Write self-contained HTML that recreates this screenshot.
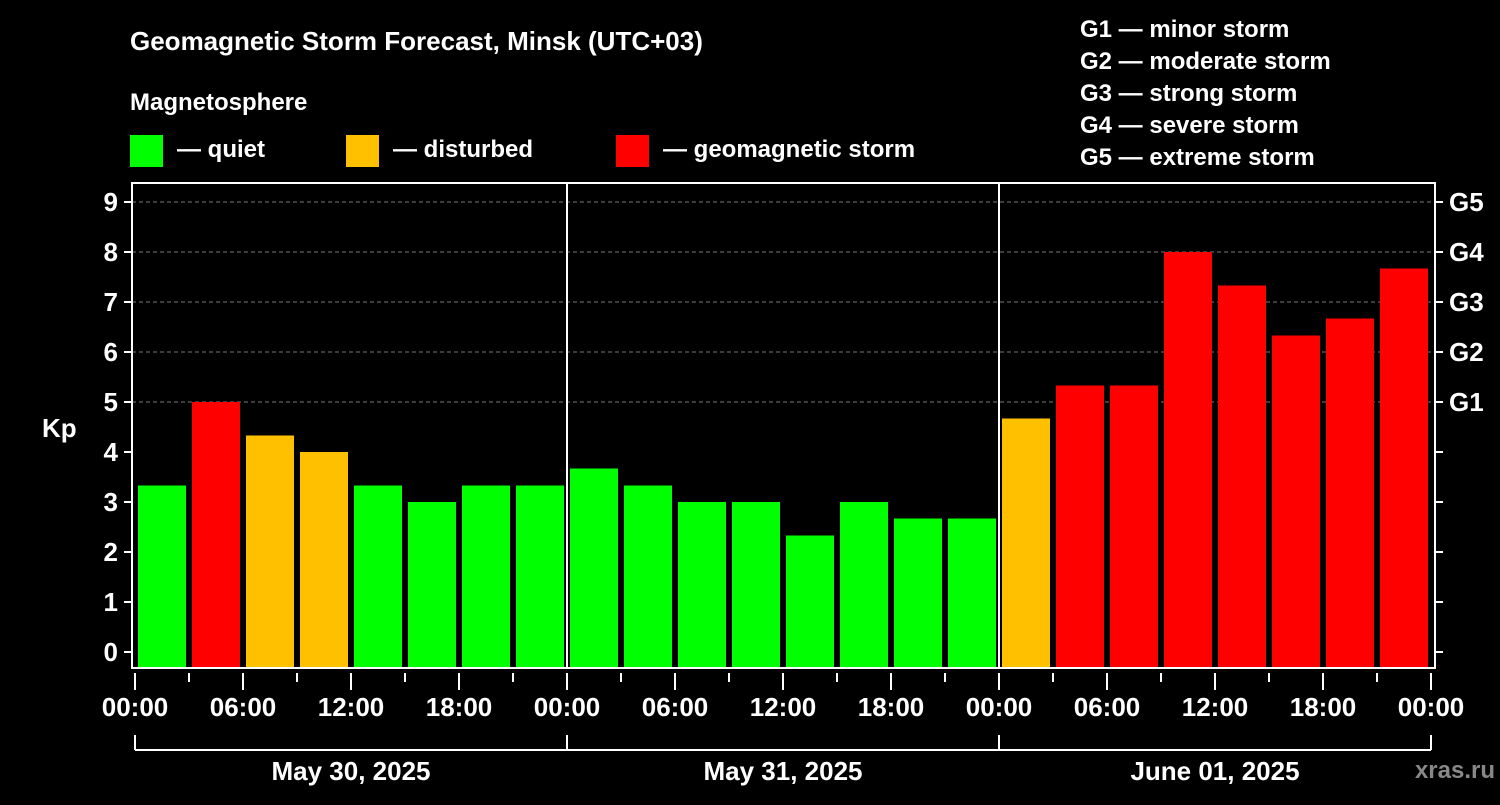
<!DOCTYPE html>
<html><head><meta charset="utf-8"><style>
body{margin:0;background:#000;width:1500px;height:800px;overflow:hidden}
svg text{font-family:"Liberation Sans",sans-serif;font-weight:bold;fill:#fff}
</style></head><body>
<svg id="c" width="1500" height="800">
<text x="130" y="50" font-size="26">Geomagnetic Storm Forecast, Minsk (UTC+03)</text>
<text x="130" y="110" font-size="24">Magnetosphere</text>
<rect x="130" y="135" width="33" height="32" fill="#00ff00"/>
<text x="177" y="157" font-size="24">— quiet</text>
<rect x="346" y="135" width="33" height="32" fill="#ffc000"/>
<text x="393" y="157" font-size="24">— disturbed</text>
<rect x="616" y="135" width="33" height="32" fill="#ff0000"/>
<text x="663" y="157" font-size="24">— geomagnetic storm</text>
<g font-size="24">
<text x="1080" y="37">G1 — minor storm</text>
<text x="1080" y="69">G2 — moderate storm</text>
<text x="1080" y="101">G3 — strong storm</text>
<text x="1080" y="133">G4 — severe storm</text>
<text x="1080" y="165">G5 — extreme storm</text>
</g>
<text x="42" y="437" font-size="26">Kp</text>
<text x="1495" y="778" font-size="24" text-anchor="end" style="fill:#888">xras.ru</text>
<g id="plot"></g>
</svg>
<script>
const days = ["May 30, 2025","May 31, 2025","June 01, 2025"];
const kpValues = [3.33,5,4.33,4,3.33,3,3.33,3.33, 3.67,3.33,3,3,2.33,3,2.67,2.67, 4.67,5.33,5.33,8,7.33,6.33,6.67,7.67];
const yTicks = [0,1,2,3,4,5,6,7,8,9];
const gLabels = ["G1","G2","G3","G4","G5"];
const hourLabels = ["00:00","06:00","12:00","18:00"];
const NS="http://www.w3.org/2000/svg";
const g=document.getElementById('plot');
const L=132,R=1435,T=183,B=668,X0=135,DAYW=432;
const x=h=>X0+h*DAYW/24;
const y=v=>652-v*50;
function mk(t,a,p){const e=document.createElementNS(NS,t);for(const k in a)e.setAttribute(k,a[k]);(p||g).appendChild(e);return e;}
function col(v){return v>=5?"#ff0000":v>=4?"#ffc000":"#00ff00";}
// grid
yTicks.forEach(v=>{if(v>=5){const l=mk('line',{x1:L,x2:R,y1:y(v),y2:y(v),stroke:'#777','stroke-dasharray':'4,3','stroke-width':1});

}});
// bars
kpValues.forEach((v,i)=>{const b=mk('rect',{x:x(i*3)+3,y:y(v),width:48,height:B-y(v),fill:col(v)});

});
// day separators
for(let d=1;d<days.length;d++){const l=mk('line',{x1:x(d*24),x2:x(d*24),y1:T,y2:B,stroke:'#fff','stroke-width':2});

}
// frame
const fr=mk('rect',{x:L,y:T,width:R-L,height:B-T,fill:'none',stroke:'#fff','stroke-width':2});


// y ticks
yTicks.forEach(v=>{
mk('line',{x1:L-8,x2:L,y1:y(v),y2:y(v),stroke:'#fff','stroke-width':2});
mk('line',{x1:R,x2:R+8,y1:y(v),y2:y(v),stroke:'#fff','stroke-width':2});
const t=mk('text',{x:L-14,y:y(v)+9,'font-size':26,'text-anchor':'end'});t.textContent=v;

});
gLabels.forEach((s,i)=>{const t=mk('text',{x:R+14,y:y(5+i)+9,'font-size':26});t.textContent=s;

});
// x ticks
for(let h=0;h<=days.length*24;h+=3){const major=h%6===0;
mk('line',{x1:x(h),x2:x(h),y1:B+5,y2:B+(major?22:14),stroke:'#fff','stroke-width':2});
if(major){const t=mk('text',{x:x(h),y:716,'font-size':26,'text-anchor':'middle'});t.textContent=hourLabels[(h%24)/6];

}}
// day brackets
mk('line',{x1:x(0),x2:x(days.length*24),y1:750,y2:750,stroke:'#fff','stroke-width':2});
for(let d=0;d<=days.length;d++)mk('line',{x1:x(d*24),x2:x(d*24),y1:735,y2:750,stroke:'#fff','stroke-width':2});
days.forEach((s,d)=>{const t=mk('text',{x:x(d*24+12),y:780,'font-size':26,'text-anchor':'middle'});t.textContent=s;

});
</script>
</body></html>
